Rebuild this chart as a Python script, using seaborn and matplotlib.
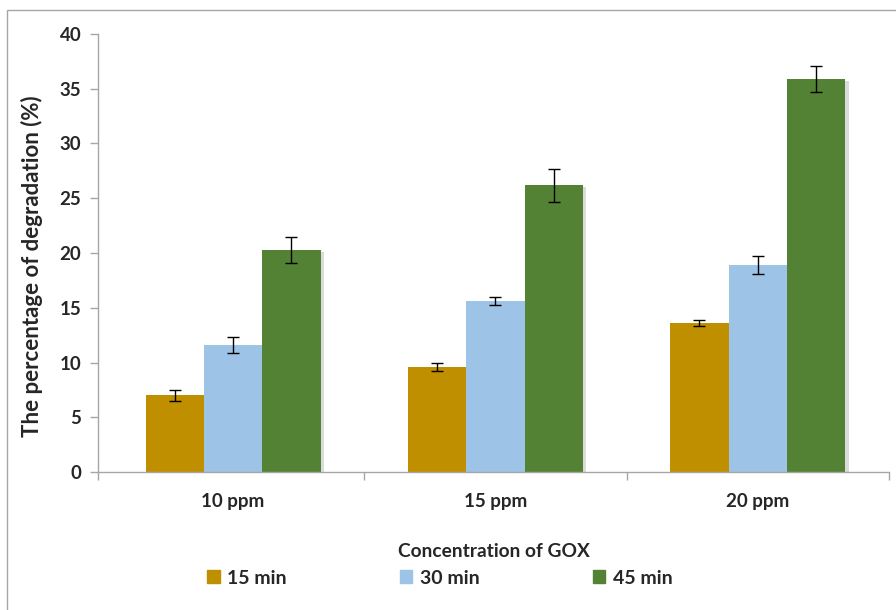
import numpy as np
import pandas as pd
import matplotlib
matplotlib.use("Agg")
import matplotlib.pyplot as plt
import matplotlib.patheffects as pe
from matplotlib.patches import Rectangle
import seaborn as sns

# datos
concentraciones = ["10 ppm", "15 ppm", "20 ppm"]
tiempos = ["15 min", "30 min", "45 min"]
deg_15 = [7.0, 9.6, 13.6]
deg_30 = [11.6, 15.6, 18.9]
deg_45 = [20.25, 26.2, 35.9]
err_15 = [0.5, 0.4, 0.3]
err_30 = [0.75, 0.35, 0.85]
err_45 = [1.2, 1.5, 1.2]
colores = ["#BF8F00", "#9DC3E6", "#548235"]

df = pd.DataFrame({
    "conc": concentraciones * 3,
    "tiempo": np.repeat(tiempos, 3),
    "deg": deg_15 + deg_30 + deg_45,
})
errores = [err_15, err_30, err_45]

sns.set_style("white")
plt.rcParams["font.family"] = ["Lato", "DejaVu Sans"]
plt.rcParams["font.weight"] = "bold"

fig = plt.figure(figsize=(8.96, 6.10), dpi=100)
ax = fig.add_axes([98 / 896, 1 - 472 / 610, 791 / 896, 438 / 610])

sns.barplot(data=df, x="conc", y="deg", hue="tiempo", order=concentraciones,
            hue_order=tiempos, palette=colores, width=0.667, errorbar=None,
            saturation=1, linewidth=0, ax=ax)

# sombra de las barras
for p in ax.patches:
    p.set_path_effects([pe.SimplePatchShadow(offset=(2.5, -1.5), shadow_rgbFace="#999999", alpha=0.35),
                        pe.Normal()])

# barras de error
for cont, err in zip(ax.containers, errores):
    xs = [b.get_x() + b.get_width() / 2 for b in cont]
    hs = [b.get_height() for b in cont]
    ax.errorbar(xs, hs, yerr=err, fmt="none", ecolor="black", elinewidth=1,
                capsize=4, capthick=1, zorder=5)

ax.set_xlim(-0.515, 2.5)
ax.set_ylim(0, 40)
ax.set_yticks(np.arange(0, 41, 5))
ax.set_xticks([-0.515, 0.5, 1.5, 2.5])
ax.set_xticklabels([])
ax.set_xticks([0, 1, 2], minor=True)
ax.set_xticklabels(concentraciones, minor=True)
ax.tick_params(axis="x", which="major", direction="out", length=6, color="#A6A6A6", width=1)
ax.tick_params(axis="x", which="minor", length=0, pad=15, labelsize=13.5)
ax.tick_params(axis="y", direction="out", length=6, color="#A6A6A6", width=1, labelsize=13.5, pad=6)
ax.tick_params(bottom=True, left=True)
for lbl in ax.get_xticklabels(minor=True) + ax.get_yticklabels():
    lbl.set_fontweight("bold")

for s in ["top", "right"]:
    ax.spines[s].set_visible(False)
for s in ["left", "bottom"]:
    ax.spines[s].set_color("#A6A6A6")
    ax.spines[s].set_linewidth(1)

ax.set_xlabel("Concentration of GOX", fontsize=13.8, fontweight="bold", labelpad=24)
ax.set_ylabel("The percentage of degradation (%)", fontsize=16, fontweight="bold")
ax.yaxis.set_label_coords(-0.07, 0.47)

ax.get_legend().remove()
handles = [Rectangle((0, 0), 1, 1, color=c) for c in colores]
fig.legend(handles, tiempos, loc="center", bbox_to_anchor=(440 / 896, 1 - 578 / 610), ncol=3,
           frameon=False, prop={"weight": "bold", "size": 14}, handlelength=0.65,
           handleheight=0.65, handletextpad=0.4, columnspacing=5.8)

# borde exterior del grafico
fig.patches.append(Rectangle((7 / 896, -0.1), 1.2, 1 - 10 / 610 + 0.1, transform=fig.transFigure,
                             fill=False, edgecolor="#A6A6A6", linewidth=1))

fig.savefig("out.png", dpi=100)
